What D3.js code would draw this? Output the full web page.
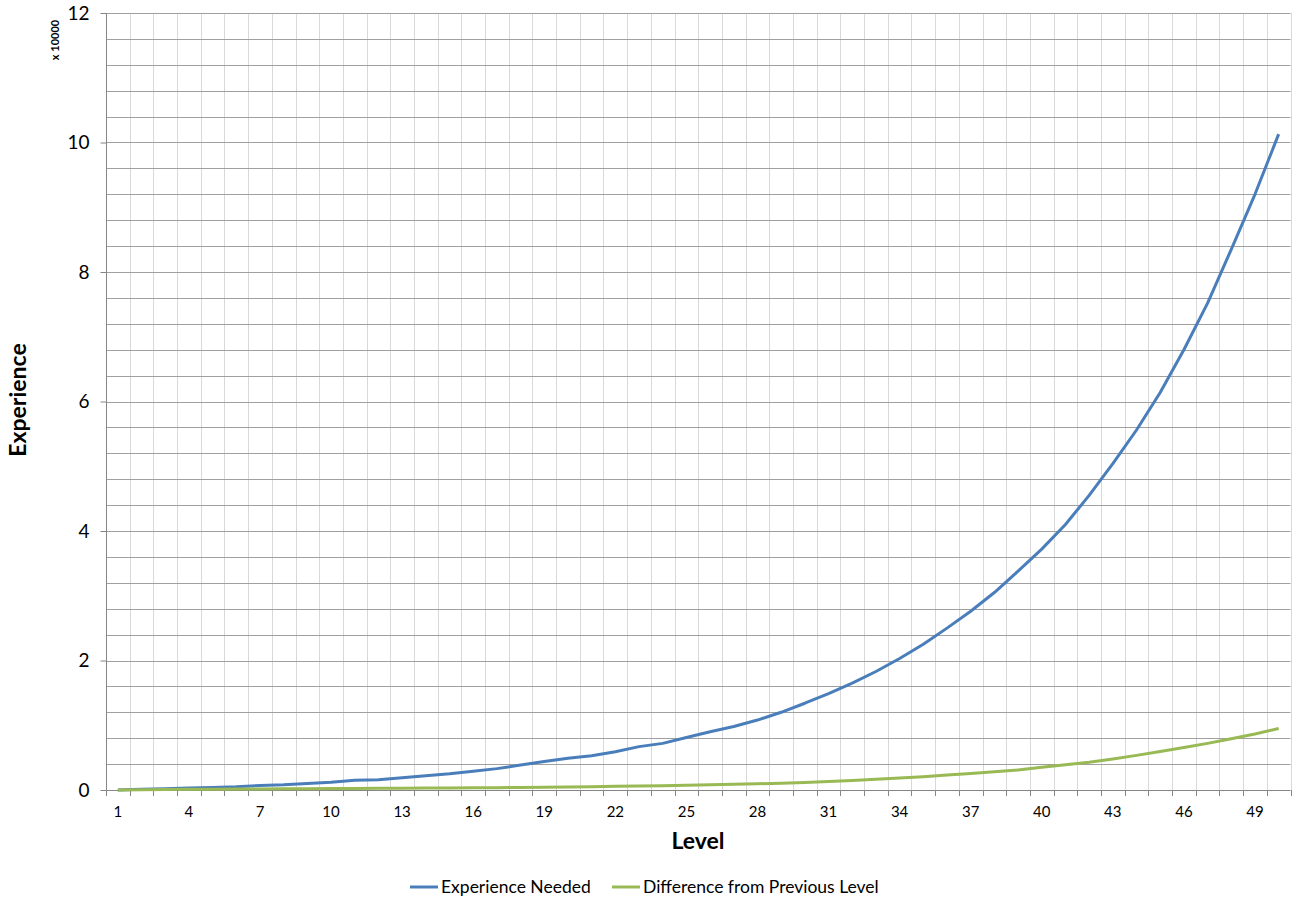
<!DOCTYPE html>
<html>
<head>
<meta charset="utf-8">
<script src="https://cdn.jsdelivr.net/npm/d3@7"></script>
<style>
  body { margin: 0; background: #fff; }
  text { font-family: Lato, "Open Sans", sans-serif; fill: #000; }
</style>
</head>
<body>
<svg id="chart" width="1300" height="907"></svg>
<script>
// levels 1..50
var levels = d3.range(1, 51);

// total experience needed for each level
var expNeeded = [
    0, 100, 200, 300, 400, 500, 700, 800, 1000, 1200,
    1500, 1600, 1900, 2200, 2500, 2900, 3300, 3850, 4400, 4900,
    5300, 5900, 6700, 7200, 8100, 9000, 9800, 10800, 12000, 13400,
    14900, 16500, 18300, 20300, 22500, 25000, 27600, 30500, 33800, 37200,
    41000, 45500, 50400, 55600, 61400, 68000, 75200, 83500, 92000, 101300
];

// experience gained between a level and the one before it
var expDiff = [
    0, 50, 80, 100, 120, 140, 160, 180, 200, 220,
    240, 260, 280, 300, 320, 340, 360, 400, 440, 480,
    520, 560, 600, 650, 720, 800, 880, 960, 1050, 1150,
    1300, 1450, 1650, 1850, 2050, 2300, 2550, 2800, 3100, 3500,
    3900, 4300, 4800, 5350, 5950, 6550, 7200, 7900, 8650, 9500
];

var seriesNames = ["Experience Needed", "Difference from Previous Level"];
var seriesColors = ["#4a7ebb", "#98b954"];

var yTicks = [0, 2, 4, 6, 8, 10, 12];
var xLabelLevels = d3.range(1, 51, 3);

function drawChart() {
    var svg = d3.select("#chart");

    var pLeft = 106, pRight = 1290.5, pTop = 13, pBottom = 790;

    var x = d3.scaleLinear().domain([0.5, 50.5]).range([pLeft, pRight]);
    var y = d3.scaleLinear().domain([0, 120000]).range([pBottom, pTop]);

    // vertical light grid at each category boundary
    svg.append("g")
        .selectAll("line")
        .data(d3.range(1, 51))
        .enter()
        .append("line")
        .attr("x1", function (d) { return Math.round(x(d + 0.5)) + 0.5; })
        .attr("x2", function (d) { return Math.round(x(d + 0.5)) + 0.5; })
        .attr("y1", pTop)
        .attr("y2", pBottom)
        .style("stroke", "#d9d9d9")
        .style("stroke-width", 1);

    // horizontal grid, every 4000
    svg.append("g")
        .selectAll("line")
        .data(d3.range(4000, 120001, 4000))
        .enter()
        .append("line")
        .attr("x1", pLeft)
        .attr("x2", pRight)
        .attr("y1", function (d) { return Math.round(y(d)) + 0.5; })
        .attr("y2", function (d) { return Math.round(y(d)) + 0.5; })
        .style("stroke", "#a0a0a0")
        .style("stroke-width", 1);

    // y axis
    var yAxis = d3.axisLeft(y)
        .tickValues(yTicks.map(function (t) { return t * 10000; }))
        .tickFormat(function (d) { return d / 10000; })
        .tickSize(6)
        .tickPadding(11);

    var gy = svg.append("g")
        .attr("transform", "translate(" + (pLeft + 0.5) + ",0)")
        .call(yAxis);
    gy.select(".domain").remove();
    gy.selectAll("line").style("stroke", "#868686");
    gy.selectAll("text")
        .style("font-size", "19px")
        .style("font-family", "Lato, 'Open Sans', sans-serif");

    svg.append("line")
        .attr("x1", pLeft + 0.5).attr("x2", pLeft + 0.5)
        .attr("y1", pTop).attr("y2", pBottom + 6)
        .style("stroke", "#868686");

    // x axis
    svg.append("line")
        .attr("x1", pLeft).attr("x2", pRight)
        .attr("y1", pBottom + 0.5).attr("y2", pBottom + 0.5)
        .style("stroke", "#868686");

    svg.append("g")
        .selectAll("line")
        .data(d3.range(1, 51))
        .enter()
        .append("line")
        .attr("x1", function (d) { return Math.round(x(d + 0.5)) + 0.5; })
        .attr("x2", function (d) { return Math.round(x(d + 0.5)) + 0.5; })
        .attr("y1", pBottom)
        .attr("y2", pBottom + 6)
        .style("stroke", "#868686");

    svg.append("g")
        .selectAll("text")
        .data(xLabelLevels)
        .enter()
        .append("text")
        .attr("x", function (d) { return x(d); })
        .attr("y", pBottom + 27)
        .attr("text-anchor", "middle")
        .style("font-size", "15px")
        .text(function (d) { return d; });

    // lines
    var allSeries = [expNeeded, expDiff];

    var line = d3.line()
        .x(function (d, i) { return x(levels[i]); })
        .y(function (d) { return y(d); });

    allSeries.forEach(function (s, i) {
        svg.append("path")
            .datum(s)
            .attr("d", line)
            .style("fill", "none")
            .style("stroke", seriesColors[i])
            .style("stroke-width", 3)
            .style("stroke-linejoin", "round");
    });

    // axis titles
    svg.append("text")
        .attr("transform", "translate(26,400) rotate(-90)")
        .attr("text-anchor", "middle")
        .style("font-size", "23px")
        .style("font-weight", "bold")
        .text("Experience");

    svg.append("text")
        .attr("transform", "translate(59,40) rotate(-90)")
        .attr("text-anchor", "middle")
        .style("font-size", "11px")
        .style("font-weight", "bold")
        .text("x 10000");

    svg.append("text")
        .attr("x", 698)
        .attr("y", 849)
        .attr("text-anchor", "middle")
        .style("font-size", "23px")
        .style("font-weight", "bold")
        .text("Level");

    // legend
    var legendX = [410, 612];
    seriesNames.forEach(function (name, i) {
        svg.append("line")
            .attr("x1", legendX[i]).attr("x2", legendX[i] + 28)
            .attr("y1", 887).attr("y2", 887)
            .style("stroke", seriesColors[i])
            .style("stroke-width", 3);
        svg.append("text")
            .attr("x", legendX[i] + 31)
            .attr("y", 893)
            .style("font-size", "17.5px")
            .text(name);
    });
}

drawChart();
</script>
</body>
</html>
